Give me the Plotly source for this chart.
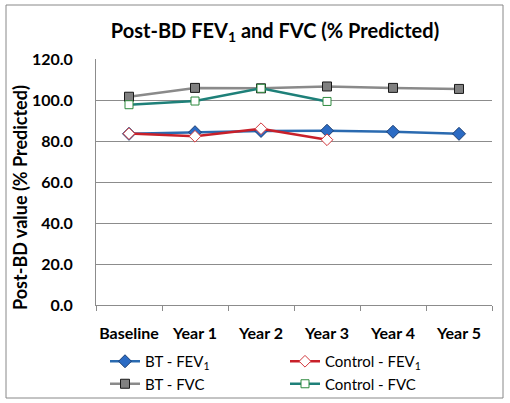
import plotly.graph_objects as go

categories = ["Baseline", "Year 1", "Year 2", "Year 3", "Year 4", "Year 5"]
bt_fev1 = [83.5, 84.3, 84.9, 85.0, 84.5, 83.5]
control_fev1 = [83.6, 82.3, 86.0, 80.6]
bt_fvc = [101.6, 105.9, 105.7, 106.6, 105.9, 105.4]
control_fvc = [97.7, 99.5, 105.7, 99.3]
y_ticks = [0, 20, 40, 60, 80, 100, 120]

FONT = "Lato"

fig = go.Figure()
fig.add_trace(go.Scatter(
    x=categories, y=bt_fev1, name="BT - FEV<sub>1</sub>", mode="lines+markers",
    line=dict(color="#2A6AB0", width=2.5),
    marker=dict(symbol="diamond", size=10, color="#2B6BC4", line=dict(color="#1D3F73", width=1)),
))
fig.add_trace(go.Scatter(
    x=categories[:len(control_fev1)], y=control_fev1, name="Control - FEV<sub>1</sub>", mode="lines+markers",
    line=dict(color="#C8202A", width=2.5),
    marker=dict(symbol="diamond", size=9, color="white", line=dict(color="#D2373C", width=1)),
))
fig.add_trace(go.Scatter(
    x=categories, y=bt_fvc, name="BT - FVC", mode="lines+markers",
    line=dict(color="#8A8A8A", width=2.5),
    marker=dict(symbol="square", size=9, color="#808080", line=dict(color="#1A1A1A", width=1)),
))
fig.add_trace(go.Scatter(
    x=categories[:len(control_fvc)], y=control_fvc, name="Control - FVC", mode="lines+markers",
    line=dict(color="#1E8079", width=2.5),
    marker=dict(symbol="square", size=8, color="white", line=dict(color="#2E8A3E", width=1)),
))

fig.update_layout(
    width=510, height=403,
    margin=dict(l=96, r=18, t=59, b=98, autoexpand=False),
    paper_bgcolor="white", plot_bgcolor="white",
    font=dict(family=FONT, size=14, color="black"),
    showlegend=True,
    title=dict(text="<b>Post-BD FEV<sub>1</sub> and FVC (% Predicted)</b>",
               x=275 / 510, xanchor="center", y=1 - 31 / 403, yanchor="middle",
               font=dict(family=FONT, size=20, color="black")),
    legend=dict(orientation="h", xref="container", yref="container",
                x=105 / 510, xanchor="left", y=1 - 345 / 403, yanchor="top",
                entrywidth=135, entrywidthmode="pixels",
                font=dict(family=FONT, size=15, color="black"),
                bgcolor="rgba(0,0,0,0)"),
    xaxis=dict(
        type="category", categoryorder="array", categoryarray=categories,
        range=[-0.5, 5.5], showgrid=False, showline=True, linecolor="#8C8C8C", linewidth=1,
        ticks="outside", tickson="boundaries", ticklen=5, tickcolor="#8C8C8C",
        tickfont=dict(family=FONT, size=16, color="black"), tickangle=0,
        tickvals=categories, ticktext=[f"<b>{c}</b>" for c in categories],
        ticklabelstandoff=14, zeroline=False, automargin=False,
    ),
    yaxis=dict(
        range=[0, 120], tickvals=y_ticks, ticktext=[f"<b>{v:.1f}</b>" for v in y_ticks],
        showgrid=True, gridcolor="#8C8C8C", gridwidth=1,
        showline=True, linecolor="#8C8C8C", linewidth=1,
        ticks="", ticklabelstandoff=19, zeroline=False, automargin=False,
        tickfont=dict(family=FONT, size=16, color="black"),
    ),
    annotations=[dict(
        text="<b>Post-BD value (% Predicted)</b>", textangle=-90,
        xref="paper", yref="paper", x=(20 - 96) / 396, y=(305 - 198) / 246,
        xanchor="center", yanchor="middle", showarrow=False,
        font=dict(family=FONT, size=18, color="black"),
    )],
    shapes=[dict(
        type="rect", xref="paper", yref="paper",
        x0=(6 - 96) / 396, x1=(503 - 96) / 396,
        y0=(305 - 398) / 246, y1=(305 - 5) / 246,
        line=dict(color="#888888", width=1), fillcolor="rgba(0,0,0,0)", layer="below",
    )],
)

fig.write_html("out.html", config={"displayModeBar": False},
               post_script="document.body.style.margin='0';")
